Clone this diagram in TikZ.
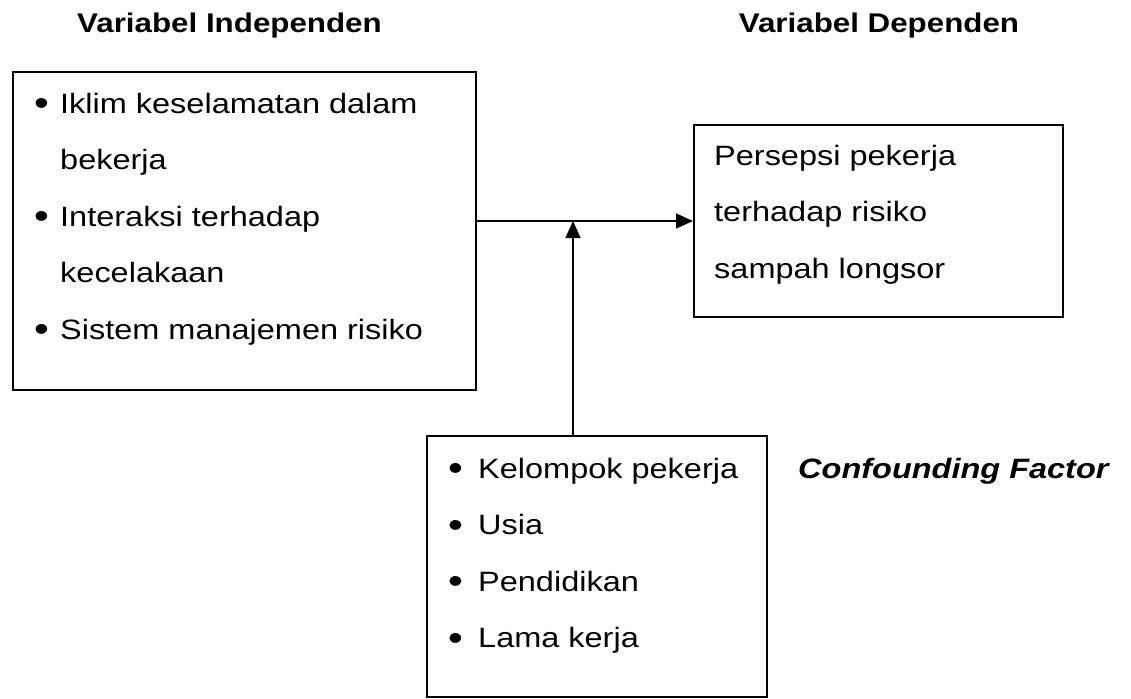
\documentclass[tikz,border=0pt]{standalone}
\usepackage{fontspec}
\setmainfont{Liberation Sans}[FakeStretch=1.16]
\usetikzlibrary{arrows.meta,positioning}
\newcommand{\bul}[2][26pt]{\makebox[#1][l]{\raisebox{-2.5pt}{\scalebox{1.3}{\textbullet}}}#2}

\begin{document}
\begin{tikzpicture}[
  x=1pt, y=-1pt,
  font=\fontsize{28}{56.4}\selectfont,
  box/.style={draw, line width=2pt, inner sep=0pt},
  txt/.style={anchor=north west, align=left, inner sep=0pt},
  head/.style={font=\fontsize{27}{32}\selectfont\bfseries, inner sep=0pt, anchor=base west},
  arrow/.style={-{Triangle[length=17pt,width=15pt]}, line width=1.6pt}
]
\useasboundingbox (0,0) rectangle (1131,698);

% titles
\node[head] (indeptitle) at (77,33) {Variabel Independen};
\node[head, anchor=base] (deptitle) at (879,33) {Variabel Dependen};
\node[head, font=\fontsize{28}{32}\selectfont\bfseries\itshape] (conftitle) at (798,478) {Confounding Factor};

% boxes
\node[box, minimum width=463pt, minimum height=318pt] (indep) at (244.5,231) {};
\node[box, minimum width=369pt, minimum height=192pt] (dep) at (878.5,221) {};
\node[box, minimum width=340pt, minimum height=261pt] (conf) at (597,566) {};

\node[txt] (indeptxt) at (34,93) {\bul{Iklim keselamatan dalam}\\
  \hspace*{26pt}bekerja\\
  \bul{Interaksi terhadap}\\
  \hspace*{26pt}kecelakaan\\
  \bul{Sistem manajemen risiko}};
\node[txt] (deptxt) at (714,145) {Persepsi pekerja\\ terhadap risiko\\ sampah longsor};
\node[txt] (conftxt) at (448,458) {\bul[30pt]{Kelompok pekerja}\\
  \bul[30pt]{Usia}\\
  \bul[30pt]{Pendidikan}\\
  \bul[30pt]{Lama kerja}};

% connectors
\coordinate (join) at (573,221);
\draw[arrow] (indep.east |- dep.west) -- (dep.west);
\draw[arrow] (join |- conf.north) -- (join);

\end{tikzpicture}
\end{document}
